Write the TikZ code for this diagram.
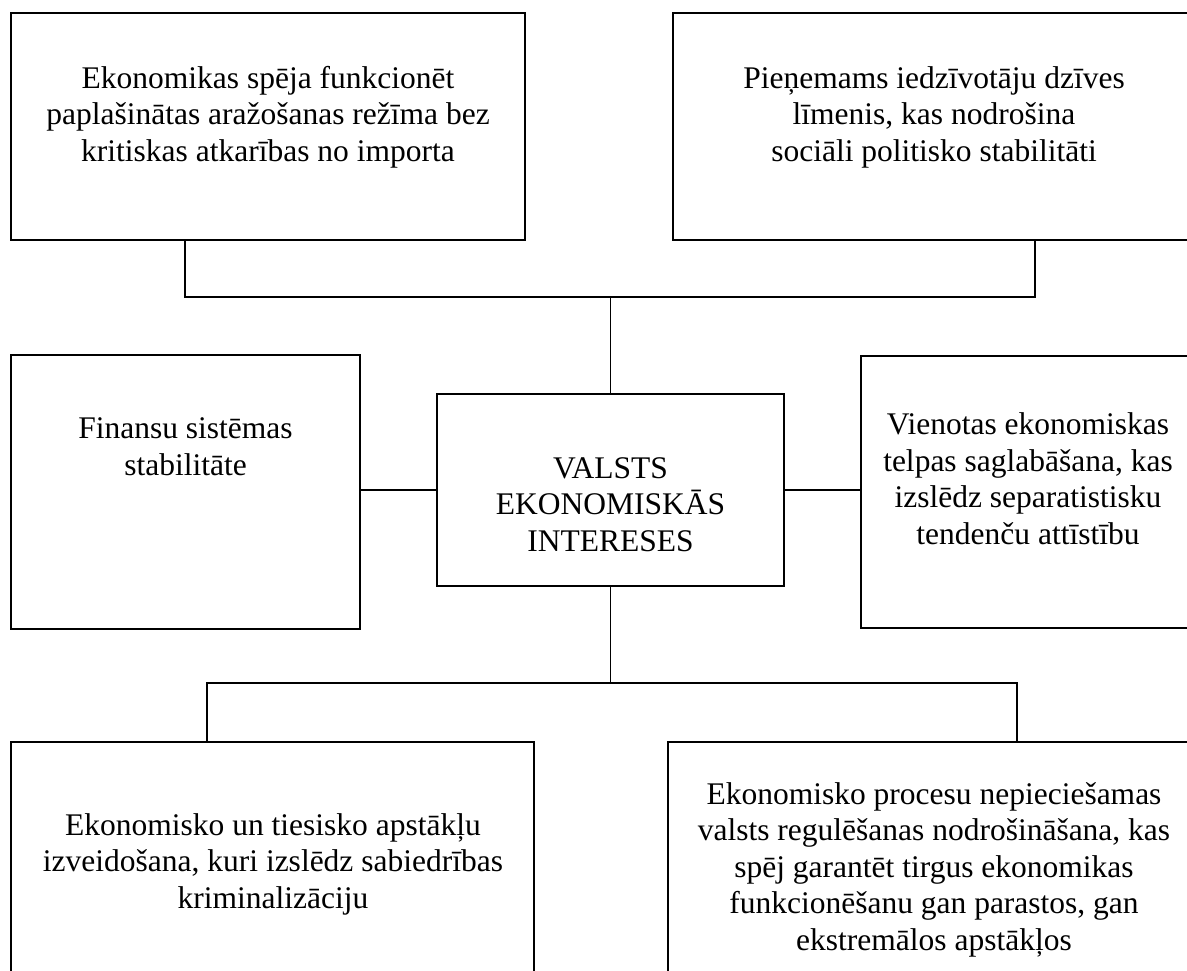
\documentclass[tikz,border=0pt]{standalone}
\usepackage{fontspec}
\setmainfont{Liberation Serif}
\begin{document}
\begin{tikzpicture}[x=1pt,y=-1pt,
  box/.style={draw=black,line width=1.5pt,inner sep=0pt,rectangle},
  txt/.style={inner sep=0pt,align=center,anchor=base,font=\fontsize{31.5}{36.5}\selectfont},
  conn/.style={draw=black,line width=1.5pt}]
\useasboundingbox (0,0) rectangle (1187,970);
% boxes
\node[box,minimum width=514,minimum height=227] (tl) at (268,126.5) {};
\node[box,minimum width=524,minimum height=227] (tr) at (935,126.5) {};
\node[box,minimum width=349,minimum height=274] (ml) at (185.5,492) {};
\node[box,minimum width=347,minimum height=192] (c) at (610.5,490) {};
\node[box,minimum width=336,minimum height=272] (mr) at (1029,492) {};
\node[box,minimum width=523,minimum height=258] (bl) at (272.5,871) {};
\node[box,minimum width=532,minimum height=258] (br) at (934,871) {};
% texts (anchored at the baseline of the last line)
\node[txt] (tltext) at (268,161) {Ekonomikas spēja funkcionēt\\paplašinātas aražošanas režīma bez\\kritiskas atkarības no importa};
\node[txt] (trtext) at (934,161) {Pieņemams iedzīvotāju dzīves\\līmenis, kas nodrošina\\sociāli politisko stabilitāti};
\node[txt] (mltext) at (185.5,475) {Finansu sistēmas\\stabilitāte};
\node[txt] (ctext) at (610.5,551) {VALSTS\\EKONOMISKĀS\\INTERESES};
\node[txt] (mrtext) at (1028,544) {Vienotas ekonomiskas\\telpas saglabāšana, kas\\izslēdz separatistisku\\tendenču attīstību};
\node[txt] (bltext) at (273,908) {Ekonomisko un tiesisko apstākļu\\izveidošana, kuri izslēdz sabiedrības\\kriminalizāciju};
\node[txt] (brtext) at (934,950) {Ekonomisko procesu nepieciešamas\\valsts regulēšanas nodrošināšana, kas\\spēj garantēt tirgus ekonomikas\\funkcionēšanu gan parastos, gan\\ekstremālos apstākļos};
% junction coordinates
\coordinate (tla) at (185,297);
\coordinate (tra) at (1035,297);
\coordinate (bla) at (207,683);
\coordinate (bra) at (1017,683);
% connectors
\draw[conn] (tla |- tl.south) -- (tla) -- (tra) -- (tra |- tr.south);
\draw[conn] (c.north) -- (c.north |- tla);
\draw[conn] (c.west) -- (c.west -| ml.east);
\draw[conn] (c.east) -- (c.east -| mr.west);
\draw[conn] (c.south) -- (c.south |- bla);
\draw[conn] (bla |- bl.north) -- (bla) -- (bra) -- (bra |- br.north);
\end{tikzpicture}
\end{document}
